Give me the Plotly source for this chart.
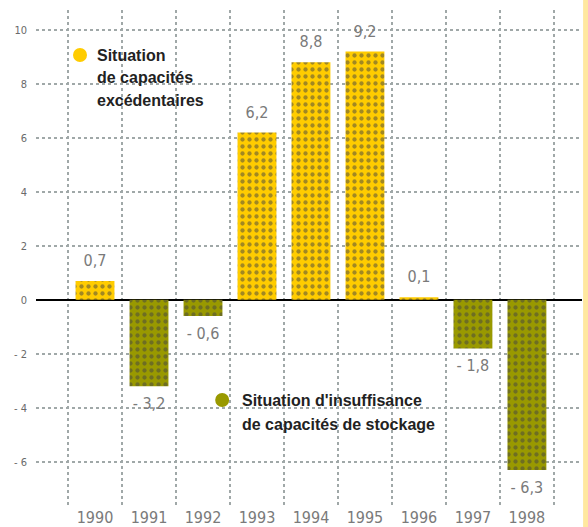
import plotly.graph_objects as go

years = ["1990", "1991", "1992", "1993", "1994", "1995", "1996", "1997", "1998"]
values = [0.7, -3.2, -0.6, 6.2, 8.8, 9.2, 0.1, -1.8, -6.3]
labels = ["0,7", "- 3,2", "- 0,6", "6,2", "8,8", "9,2", "0,1", "- 1,8", "- 6,3"]
ytick_vals = [-6, -4, -2, 0, 2, 4, 6, 8, 10]
ytick_text = ["- 6", "- 4", "- 2", "0", "2", "4", "6", "8", "10"]
legend_pos = ["Situation", "de capacités", "excédentaires"]
legend_neg = ["Situation d'insuffisance", "de capacités de stockage"]

YELLOW = "#FFCC00"
YELLOW_DOT = "#E8E800"
OLIVE = "#999900"
OLIVE_DOT = "#CC7A00"

bg = [YELLOW if v >= 0 else OLIVE for v in values]
fg = [YELLOW_DOT if v >= 0 else OLIVE_DOT for v in values]

font_lab = "DejaVu Sans Condensed, Liberation Sans Narrow, sans-serif"
font_leg = "Liberation Sans, Arial, sans-serif"

fig = go.Figure()
fig.add_trace(go.Bar(
    x=years, y=values,
    marker=dict(color=bg, line=dict(width=0),
                pattern=dict(shape=".", bgcolor=bg, fgcolor=fg, size=7, solidity=0.3)),
    width=0.72, hoverinfo="skip",
))

# value labels (invisible markers push the text away from the bar ends)
fig.add_trace(go.Scatter(
    x=years, y=values, mode="markers+text", text=labels,
    marker=dict(size=16, color="rgba(0,0,0,0)"),
    textposition=["top center" if v >= 0 else "bottom center" for v in values],
    textfont=dict(family=font_lab, size=16, color="#7a7a7a"),
    cliponaxis=False, hoverinfo="skip",
))

fig.update_layout(
    width=588, height=527,
    margin=dict(l=36, r=6, t=10, b=22, autoexpand=False),
    paper_bgcolor="white", plot_bgcolor="white",
    showlegend=False,
    xaxis=dict(
        type="category", range=[-1.093, 9.02], tickson="boundaries",
        showgrid=True, gridcolor="#A0A8A8", griddash="dot", gridwidth=2,
        ticks="", showline=False, automargin=False, ticklabelstandoff=1,
        tickfont=dict(family=font_lab, size=16, color="#7a7a7a"),
    ),
    yaxis=dict(
        range=[-7.6, 10.74], tickvals=ytick_vals, ticktext=ytick_text,
        showgrid=True, gridcolor="#A0A8A8", griddash="dot", gridwidth=2,
        zeroline=True, zerolinecolor="black", zerolinewidth=2,
        ticks="", showline=False, ticklabelstandoff=8, automargin=False,
        tickfont=dict(family=font_lab, size=11, color="#6a6a6a"),
    ),
    font=dict(family=font_leg),
)

def legend_dot(px, py, color):
    fig.add_shape(type="circle", xref="paper", yref="paper",
                  xsizemode="pixel", ysizemode="pixel", xanchor=px, yanchor=py,
                  x0=-7, x1=7, y0=-7, y1=7, fillcolor=color, line=dict(width=0),
                  layer="above")

# legend 1 (yellow)
legend_dot(0.0806, 0.909, YELLOW)
for i, line in enumerate(legend_pos):
    fig.add_annotation(xref="paper", yref="paper", x=0.108, y=0.909 - i * 0.0455,
                       xanchor="left", yanchor="middle", showarrow=False, text=line,
                       font=dict(family=font_leg, size=16, color="#222222", weight="bold"))

# legend 2 (olive)
legend_dot(0.341, 0.212, OLIVE)
for i, line in enumerate(legend_neg):
    fig.add_annotation(xref="paper", yref="paper", x=0.374, y=0.212 - i * 0.0485,
                       xanchor="left", yanchor="middle", showarrow=False, text=line,
                       font=dict(family=font_leg, size=16, color="#222222", weight="bold"))

fig.add_shape(type="rect", xref="paper", yref="paper", x0=1.002, x1=1.02, y0=-0.05, y1=1.03,
              fillcolor="#FFE8A0", line=dict(width=0), layer="above")

fig.write_html("out.html", config={"displayModeBar": False},
               post_script="document.body.style.margin='0';document.body.style.overflow='hidden';")
